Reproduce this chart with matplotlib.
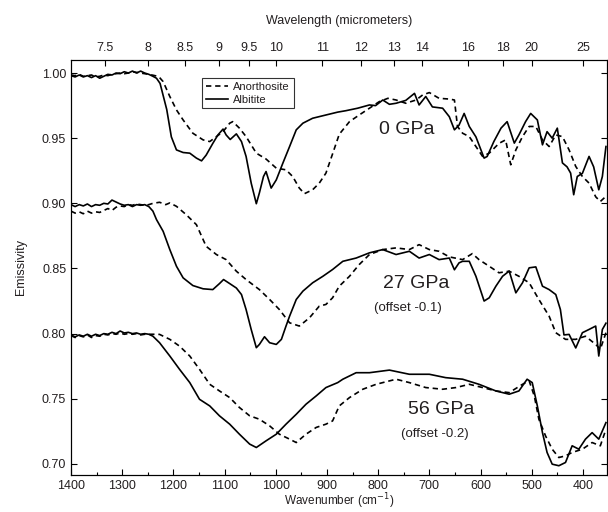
import matplotlib
matplotlib.use("Agg")
import matplotlib.pyplot as plt
from matplotlib.ticker import MultipleLocator

plt.rcParams['font.family'] = ['Liberation Sans', 'DejaVu Sans']
TXT = '#231f20'

# flat part of every spectrum (1400-1248 cm-1)
wn_flat = [1400, 1392, 1384, 1376, 1368, 1360, 1352, 1344, 1336, 1328,
           1320, 1312, 1304, 1296, 1288, 1280, 1272, 1264, 1256, 1248]

# ---- 0 GPa ----
wn_ab0 = wn_flat + [1240, 1233, 1226, 1213, 1204, 1194, 1181, 1168, 1155, 1145,
                    1136, 1123, 1113, 1103, 1097, 1089, 1077, 1067, 1058, 1048,
                    1038, 1032, 1024, 1019, 1009, 999, 986, 973, 960, 947,
                    928, 902, 879, 863, 840, 817, 805, 791, 778, 765,
                    746, 729, 720, 707, 694, 674, 661, 651, 642, 632,
                    622, 609, 593, 587, 574, 560, 548, 534, 525, 512,
                    502, 489, 479, 470, 460, 450, 440, 431, 424, 418,
                    411, 401, 388, 379, 369, 362, 355]
em_ab0 = [0.998, 0.997, 0.9985, 0.997, 0.998, 0.9965, 0.998, 0.996, 0.9975, 0.999,
          0.9985, 1.000, 0.9995, 1.001, 1.000, 1.0015, 1.000, 1.0015, 1.000, 0.999,
          0.9975, 0.996, 0.992, 0.972, 0.951, 0.941, 0.939, 0.9385, 0.9347, 0.9326,
          0.937, 0.946, 0.9525, 0.957, 0.9525, 0.949, 0.9533, 0.9474, 0.936, 0.9155,
          0.8997, 0.908, 0.9206, 0.9244, 0.9117, 0.918, 0.931, 0.9436, 0.9564, 0.9615,
          0.9653, 0.9678, 0.970, 0.9711, 0.973, 0.9755, 0.975, 0.9793, 0.976, 0.9768,
          0.979, 0.9844, 0.9755, 0.982, 0.974, 0.973, 0.9665, 0.9564, 0.960, 0.969,
          0.959, 0.951, 0.9347, 0.936, 0.9474, 0.9577, 0.9627, 0.9462, 0.9525, 0.9627,
          0.969, 0.964, 0.9449, 0.955, 0.950, 0.9577, 0.931, 0.928, 0.9232, 0.9066,
          0.9206, 0.923, 0.936, 0.928, 0.9104, 0.9206, 0.9436]

wn_an0 = wn_flat + [1236, 1228, 1220, 1207, 1194, 1181, 1162, 1142, 1129, 1116,
                    1103, 1090, 1084, 1071, 1058, 1038, 1019, 999, 980, 967,
                    954, 944, 928, 915, 902, 889, 876, 856, 837, 817,
                    798, 781, 765, 746, 726, 713, 700, 681, 660, 651,
                    645, 635, 622, 609, 596, 583, 564, 551, 541, 531,
                    518, 505, 492, 479, 466, 453, 440, 427, 414, 401,
                    388, 375, 366, 356]
em_an0 = [0.9985, 0.998, 0.999, 0.9975, 0.998, 0.9985, 0.997, 0.9975, 0.9985, 0.998,
          0.999, 0.9995, 1.000, 0.9995, 1.000, 1.001, 1.0005, 1.000, 0.9995, 0.999,
          0.998, 0.997, 0.9934, 0.982, 0.9717, 0.964, 0.9538, 0.9487, 0.9474, 0.9512,
          0.955, 0.9615, 0.9627, 0.9577, 0.9512, 0.9385, 0.934, 0.927, 0.9257, 0.9206,
          0.9117, 0.9074, 0.9104, 0.9155, 0.9232, 0.938, 0.953, 0.9627, 0.9678, 0.973,
          0.978, 0.9806, 0.9793, 0.9768, 0.9793, 0.9832, 0.985, 0.9806, 0.980, 0.9793,
          0.959, 0.9538, 0.9512, 0.9436, 0.936, 0.9385, 0.946, 0.9487, 0.9296, 0.941,
          0.9512, 0.959, 0.959, 0.9487, 0.9436, 0.9525, 0.9512, 0.941, 0.9283, 0.9206,
          0.9155, 0.905, 0.9014, 0.905]

# ---- 27 GPa (offset -0.1) ----
wn_ab27 = wn_flat + [1240, 1233, 1220, 1207, 1194, 1181, 1162, 1142, 1123, 1110,
                     1102, 1090, 1077, 1067, 1058, 1048, 1038, 1032, 1022, 1012,
                     999, 989, 980, 973, 960, 947, 928, 908, 889, 869,
                     843, 817, 791, 765, 739, 720, 700, 681, 661, 651,
                     642, 635, 622, 609, 593, 583, 570, 557, 544, 531,
                     518, 505, 492, 479, 466, 453, 444, 437, 427, 414,
                     401, 388, 375, 369, 362, 355]
em_ab27 = [0.899, 0.8975, 0.899, 0.898, 0.8995, 0.8975, 0.899, 0.8985, 0.900, 0.8995,
           0.9025, 0.901, 0.8995, 0.8985, 0.899, 0.8975, 0.899, 0.8985, 0.899, 0.8975,
           0.894, 0.8875, 0.8785, 0.8645, 0.8517, 0.8428, 0.8369, 0.8344, 0.8338, 0.8384,
           0.8415, 0.8384, 0.835, 0.830, 0.8185, 0.8032, 0.7892, 0.7917, 0.7976, 0.793,
           0.7917, 0.7956, 0.8058, 0.8134, 0.8262, 0.8326, 0.839, 0.844, 0.8492, 0.8555,
           0.858, 0.862, 0.8645, 0.8607, 0.8632, 0.858, 0.8607, 0.8568, 0.858, 0.849,
           0.8543, 0.8555, 0.8555, 0.844, 0.825, 0.8275, 0.8364, 0.844, 0.848, 0.8313,
           0.839, 0.8505, 0.8512, 0.8364, 0.8338, 0.830, 0.8185, 0.799, 0.7994, 0.789,
           0.8007, 0.8032, 0.8058, 0.7828, 0.8032, 0.808]

wn_an27 = wn_flat + [1240, 1227, 1215, 1207, 1194, 1175, 1155, 1136, 1116, 1097,
                     1077, 1058, 1032, 1012, 993, 973, 954, 934, 915, 902,
                     889, 876, 856, 837, 817, 791, 765, 739, 720, 700,
                     681, 661, 635, 616, 603, 583, 564, 544, 525, 505,
                     486, 466, 453, 434, 414, 395, 375, 366, 355]
em_an27 = [0.894, 0.8925, 0.8935, 0.892, 0.894, 0.8925, 0.8935, 0.893, 0.8945, 0.896,
           0.8945, 0.897, 0.898, 0.8975, 0.899, 0.8985, 0.8995, 0.899, 0.8985, 0.899,
           0.900, 0.9008, 0.899, 0.9003, 0.8977, 0.8913, 0.8836, 0.867, 0.8607, 0.8568,
           0.8479, 0.8415, 0.8338, 0.8262, 0.8185, 0.8083, 0.8058, 0.8122, 0.8211, 0.8224,
           0.8275, 0.8364, 0.844, 0.853, 0.8607, 0.8645, 0.8658, 0.8645, 0.8683, 0.8645,
           0.8632, 0.8589, 0.8568, 0.8614, 0.8568, 0.8517, 0.8467, 0.8479, 0.844, 0.839,
           0.8262, 0.8134, 0.8007, 0.7956, 0.7956, 0.798, 0.7917, 0.788, 0.8007]

# ---- 56 GPa (offset -0.2) ----
wn_ab56 = wn_flat + [1240, 1227, 1207, 1188, 1168, 1149, 1129, 1110, 1090, 1071,
                     1051, 1038, 1019, 999, 980, 960, 941, 921, 902, 879,
                     869, 843, 817, 778, 739, 700, 668, 635, 603, 570,
                     544, 525, 509, 499, 489, 479, 470, 460, 447, 434,
                     421, 408, 395, 382, 369, 355]
em_ab56 = [0.799, 0.7975, 0.799, 0.798, 0.7995, 0.798, 0.7995, 0.7985, 0.800, 0.7995,
           0.801, 0.800, 0.802, 0.8005, 0.801, 0.800, 0.8005, 0.7995, 0.800, 0.7995,
           0.798, 0.793, 0.7828, 0.7726, 0.7624, 0.7496, 0.7445, 0.7369, 0.7305, 0.7228,
           0.7152, 0.7126, 0.7177, 0.7228, 0.7305, 0.7381, 0.7458, 0.7522, 0.7586, 0.7624,
           0.765, 0.770, 0.770, 0.772, 0.7688, 0.7688, 0.7662, 0.765, 0.7611, 0.756,
           0.7535, 0.756, 0.765, 0.7624, 0.7445, 0.724, 0.7088, 0.6998, 0.6986, 0.7011,
           0.7139, 0.7113, 0.719, 0.724, 0.719, 0.7317]

wn_an56 = wn_flat + [1240, 1227, 1207, 1188, 1168, 1149, 1129, 1110, 1090, 1071,
                     1051, 1032, 1012, 993, 973, 960, 941, 921, 902, 889,
                     876, 856, 830, 804, 765, 739, 707, 674, 648, 622,
                     596, 570, 544, 518, 505, 495, 486, 473, 460, 447,
                     434, 421, 401, 382, 366, 355]
em_an56 = [0.7985, 0.797, 0.7985, 0.7975, 0.799, 0.797, 0.7985, 0.798, 0.7995, 0.799,
           0.800, 0.7995, 0.8005, 0.7995, 0.800, 0.7995, 0.800, 0.799, 0.7995, 0.7995,
           0.7995, 0.7994, 0.7956, 0.7904, 0.7828, 0.7726, 0.7611, 0.756, 0.7509, 0.7433,
           0.7369, 0.7343, 0.7292, 0.7228, 0.719, 0.7164, 0.7228, 0.728, 0.7305, 0.733,
           0.7445, 0.7509, 0.7573, 0.7611, 0.765, 0.7624, 0.7586, 0.7573, 0.7586, 0.7611,
           0.7586, 0.756, 0.7547, 0.7611, 0.7637, 0.7522, 0.7343, 0.7215, 0.7113, 0.7049,
           0.7062, 0.7088, 0.7113, 0.7164, 0.7139, 0.7266]

wavelengths = [7.5, 8, 8.5, 9, 9.5, 10, 11, 12, 13, 14, 16, 18, 20, 25]
wl_labels = ["7.5", "8", "8.5", "9", "9.5", "10", "11", "12", "13", "14",
             "16", "18", "20", "25"]

fig = plt.figure(figsize=(6.08, 5.12), dpi=100)
ax = fig.add_axes([0.1168, 0.0723, 0.8815, 0.8105])

dash = (0, (3.2, 2.3))
lw = 1.2
ax.plot(wn_an0, em_an0, color='black', lw=lw, linestyle=dash, label='Anorthosite')
ax.plot(wn_ab0, em_ab0, color='black', lw=lw, label='Albitite')
ax.plot(wn_an27, em_an27, color='black', lw=lw, linestyle=dash)
ax.plot(wn_ab27, em_ab27, color='black', lw=lw)
ax.plot(wn_an56, em_an56, color='black', lw=lw, linestyle=dash)
ax.plot(wn_ab56, em_ab56, color='black', lw=lw)

ax.set_xlim(1400, 353)
ax.set_ylim(0.6915, 1.01)
ax.xaxis.set_major_locator(MultipleLocator(100))
ax.xaxis.set_minor_locator(MultipleLocator(50))
ax.yaxis.set_major_locator(MultipleLocator(0.05))
ax.yaxis.set_major_formatter(plt.FormatStrFormatter('%.2f'))
ax.tick_params(axis='both', which='both', direction='in', labelsize=9,
               labelcolor=TXT, top=False, right=True)
ax.tick_params(which='major', length=4, width=0.8)
ax.tick_params(which='minor', length=2.5, width=0.8)
ax.tick_params(axis='x', pad=3.5)

ax.set_xlabel('Wavenumber (cm$^{-1}$)', fontsize=8.5, color=TXT)
ax.xaxis.set_label_coords(0.5, -0.040)
ax.set_ylabel('Emissivity', fontsize=9, color=TXT, labelpad=11)

top = ax.twiny()
top.set_xlim(ax.get_xlim())
top.set_xticks([10000 / w for w in wavelengths])
top.set_xticklabels(wl_labels)
top.tick_params(axis='x', direction='in', length=4, width=0.8, labelsize=9,
                labelcolor=TXT, pad=4)
top.set_xlabel('Wavelength (micrometers)', fontsize=9, color=TXT, labelpad=13)

leg = ax.legend(loc='upper left', bbox_to_anchor=(0.244, 0.957), fontsize=8,
                frameon=True, fancybox=False, handlelength=2.0,
                handletextpad=0.5, borderpad=0.35, labelspacing=0.25,
                borderaxespad=0)
leg.get_frame().set_edgecolor('black')
leg.get_frame().set_linewidth(0.8)
for t in leg.get_texts():
    t.set_color(TXT)

ax.text(745, 0.9564, '0 GPa', fontsize=14, color=TXT, ha='center', va='center')
ax.text(725, 0.8384, '27 GPa', fontsize=14, color=TXT, ha='center', va='center')
ax.text(741, 0.8198, '(offset -0.1)', fontsize=9.5, color=TXT, ha='center', va='center')
ax.text(677, 0.7414, '56 GPa', fontsize=14, color=TXT, ha='center', va='center')
ax.text(689, 0.7228, '(offset -0.2)', fontsize=9.5, color=TXT, ha='center', va='center')

fig.savefig('out.png', dpi=100)
